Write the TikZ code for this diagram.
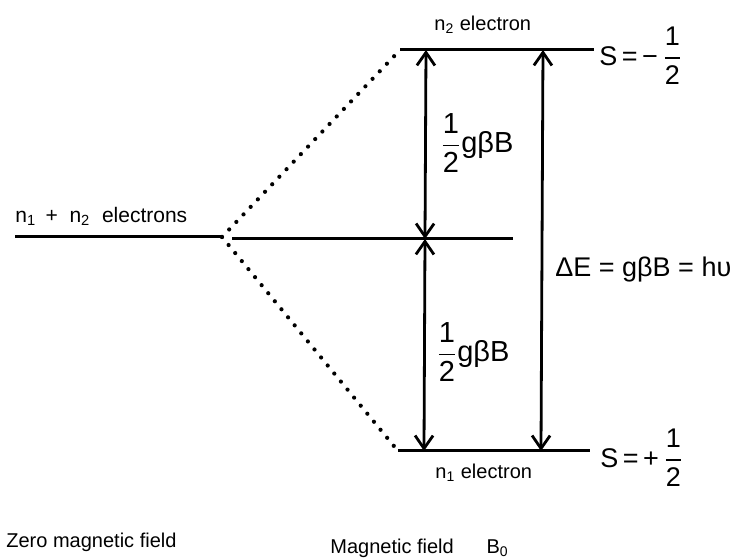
\documentclass[tikz,border=0pt]{standalone}
\usepackage{amsmath}
\usepackage{fontspec}
\setmainfont{Liberation Sans}
\usetikzlibrary{arrows.meta,positioning}
\tikzset{
  level/.style={line width=1.5pt},
  split/.style={line width=2.1pt, line cap=round, dash pattern=on 0pt off 5.2pt},
  gap/.style={{Straight Barb[length=6.5pt,width=9pt]}-{Straight Barb[length=6.5pt,width=9pt]}, line width=1.4pt},
  lbl/.style={font=\fontsize{10}{12}\selectfont, inner sep=1pt},
  big/.style={font=\fontsize{13.5}{15}\selectfont, inner sep=1pt}
}

\begin{document}
\begin{tikzpicture}[x=0.5pt, y=-0.5pt]
\useasboundingbox (0,0) rectangle (741,560);
% ---- level ends ----
\coordinate (z1) at (15,237);
\coordinate (z2) at (222,237);
\coordinate (m1) at (232,239);
\coordinate (m2) at (513,239);
\coordinate (t1) at (400,50);
\coordinate (t2) at (594,50);
\coordinate (b1) at (398,451);
\coordinate (b2) at (590,451);
\coordinate (ta) at (426,50);
\coordinate (ma) at (425,239);
\coordinate (ba) at (424,451);
\coordinate (tr) at (543,50);
\coordinate (br) at (541,451);
% ---- levels ----
\draw[level] (z1) -- (z2);
\draw[level] (m1) -- (m2);
\draw[level] (t1) -- (t2);
\draw[level] (b1) -- (b2);
\draw[split] (z2) -- (t1);
\draw[split] (z2) -- (b1);
% ---- gaps ----
\draw[gap] (ta) -- (ma);
\draw[gap] (ma) -- (ba);
\draw[gap] (tr) -- (br);
% ---- labels ----
\node[lbl, anchor=south west, font=\fontsize{10.5}{12}\selectfont] (zlbl) at (13,228) {n$_{\text{1}}$\,\ +\ \ n$_{\text{2}}$\ \ electrons};
\node[lbl, anchor=south west] (ntop) at (432,36) {n$_{\text{2}}$ electron};
\node[lbl, anchor=north west] (nbot) at (433,462) {n$_{\text{1}}$ electron};
\node[big, anchor=west] (smin) at (597,56) {S\,=\,−\,$\dfrac{\text{1}}{\text{2}}$};
\node[big, anchor=west] (splus) at (598,458) {S\,=\,+\,$\dfrac{\text{1}}{\text{2}}$};
\node[big, anchor=west, font=\fontsize{14.5}{16}\selectfont] (half1) at (438,143) {$\dfrac{\text{1}}{\text{2}}$gβB};
\node[big, anchor=west, font=\fontsize{14.5}{16}\selectfont] (half2) at (434,352) {$\dfrac{\text{1}}{\text{2}}$gβB};
\node[big, anchor=west] (de) at (553,270) {ΔE = gβB = hυ};
\node[lbl, anchor=west] (zero) at (4,542) {Zero magnetic field};
\node[lbl, anchor=west] (mag) at (328,548) {Magnetic field};
\node[lbl, right=14pt of mag, inner sep=1pt] (bzero) {B$_{\text{0}}$};
\end{tikzpicture}
\end{document}
